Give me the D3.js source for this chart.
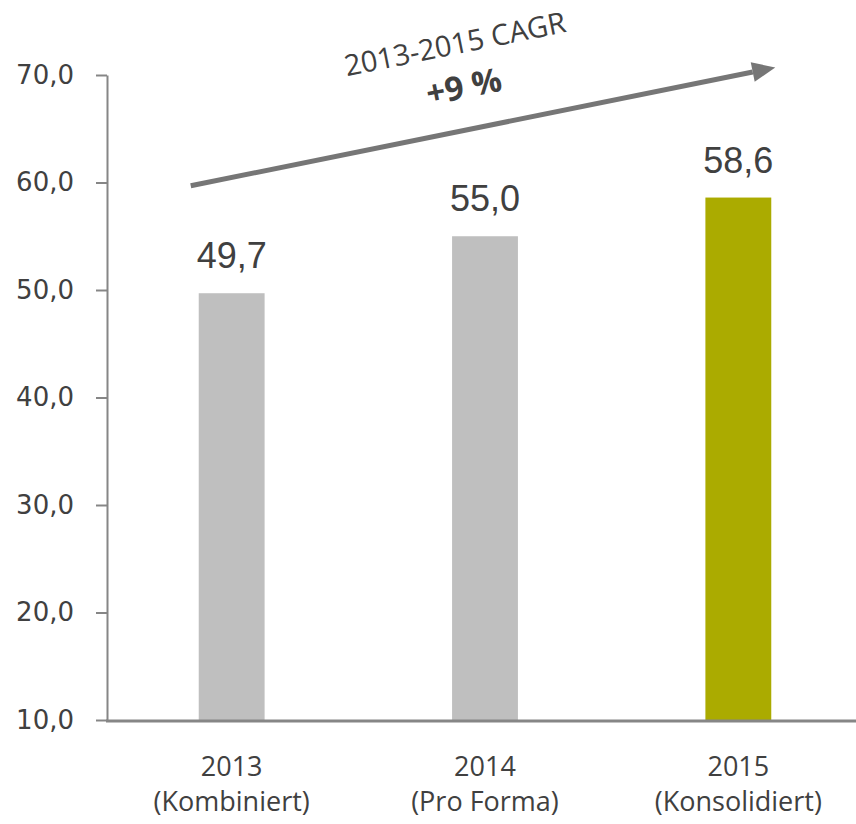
<!DOCTYPE html>
<html>
<head>
  <meta charset=utf-8>
  <title>Umsatz 2013-2015</title>
  <script src="https://cdn.jsdelivr.net/npm/d3@7"></script>
  <style>
    body { margin: 0; background: #fff; }
    #chart { width: 856px; height: 824px; }
  </style>
</head>
<body>
  <div id='chart'></div>
<script>

// data
var years  = ['2013', '2014', '2015'];
var notes  = ['(Kombiniert)', '(Pro Forma)', '(Konsolidiert)'];
var values = [49.7, 55.0, 58.6];
var colors = ['#bfbfbf', '#bfbfbf', '#abab00'];
var yTicks = [10, 20, 30, 40, 50, 60, 70];
var cagrTitle = '2013-2015 CAGR';
var cagrValue = '+9 %';

var width = 856, height = 824;
var fmt = function (v) { return d3.format('.1f')(v).replace('.', ','); };

var svg = d3.select('#chart').append('svg')
  .attr('width', width)
  .attr('height', height);

var x = d3.scaleBand()
  .domain(years)
  .range([105, 865])
  .paddingInner(0.74)
  .paddingOuter(0.37);

var y = d3.scaleLinear()
  .domain([10, 70])
  .range([720, 75]);

var axisColor = '#868686';
var textColor = '#404040';

// bars
svg.append('g')
  .selectAll('rect')
  .data(values)
  .enter().append('rect')
    .attr('x', function (d, i) { return x(years[i]); })
    .attr('y', function (d) { return y(d); })
    .attr('width', x.bandwidth())
    .attr('height', function (d) { return y(10) - y(d); })
    .attr('fill', function (d, i) { return colors[i]; });

// value labels
svg.append('g')
  .selectAll('text')
  .data(values)
  .enter().append('text')
    .attr('x', function (d, i) { return x(years[i]) + x.bandwidth() / 2; })
    .attr('y', function (d) { return y(d) - 25; })
    .attr('text-anchor', 'middle')
    .attr('font-family', "'Liberation Sans', Arial, sans-serif")
    .attr('font-size', 36)
    .attr('fill', textColor)
    .text(fmt);

// y axis
var yAxis = svg.append('g')
  .attr('transform', 'translate(107,0)')
  .call(d3.axisLeft(y).tickValues(yTicks).tickFormat(fmt).tickSizeOuter(0).tickSizeInner(11).tickPadding(22));
yAxis.select('.domain').attr('stroke', axisColor).attr('stroke-width', 2);
yAxis.selectAll('.tick line').attr('stroke', axisColor).attr('stroke-width', 2);
yAxis.selectAll('.tick text')
  .attr('font-family', "'DejaVu Sans', sans-serif")
  .attr('font-size', 26)
  .attr('fill', textColor);

// x axis line
svg.append('line')
  .attr('x1', 106).attr('x2', width)
  .attr('y1', y(10) + 1).attr('y2', y(10) + 1)
  .attr('stroke', axisColor)
  .attr('stroke-width', 3);

// category labels, two lines each
var cat = svg.append('g')
  .attr('font-family', "'Open Sans', sans-serif")
  .attr('font-size', 27)
  .attr('fill', textColor)
  .attr('text-anchor', 'middle');
cat.selectAll('text.year')
  .data(years)
  .enter().append('text')
    .attr('class', 'year')
    .attr('x', function (d) { return x(d) + x.bandwidth() / 2; })
    .attr('y', 776)
    .text(function (d) { return d; });
cat.selectAll('text.note')
  .data(years)
  .enter().append('text')
    .attr('class', 'note')
    .attr('x', function (d) { return x(d) + x.bandwidth() / 2; })
    .attr('y', 811)
    .text(function (d, i) { return notes[i]; });

// CAGR arrow
var ax1 = x(years[0]) - 8, ay1 = y(59.7);
var ax2 = x(years[2]) + x.bandwidth() + 4, ay2 = y(70.7);
var angle = Math.atan2(ay2 - ay1, ax2 - ax1);
var headLen = 23, headW = 10;
var bx = ax2 - headLen * Math.cos(angle), by = ay2 - headLen * Math.sin(angle);

svg.append('line')
  .attr('x1', ax1).attr('y1', ay1)
  .attr('x2', bx).attr('y2', by)
  .attr('stroke', '#767676')
  .attr('stroke-width', 5);

svg.append('path')
  .attr('d', 'M' + ax2 + ',' + ay2 +
    'L' + (bx + headW * Math.sin(angle)) + ',' + (by - headW * Math.cos(angle)) +
    'L' + (bx - headW * Math.sin(angle)) + ',' + (by + headW * Math.cos(angle)) + 'Z')
  .attr('fill', '#767676');

var deg = angle * 180 / Math.PI;
svg.append('text')
  .attr('transform', 'translate(457,54) rotate(' + deg + ')')
  .attr('text-anchor', 'middle')
  .attr('font-family', "'Open Sans', sans-serif")
  .attr('font-size', 29)
  .attr('fill', textColor)
  .text(cagrTitle);

svg.append('text')
  .attr('transform', 'translate(466,98) rotate(' + deg + ')')
  .attr('text-anchor', 'middle')
  .attr('font-family', "'Open Sans', sans-serif")
  .attr('font-weight', 'bold')
  .attr('font-size', 33)
  .attr('fill', textColor)
  .text(cagrValue);

</script>
</body>
</html>
